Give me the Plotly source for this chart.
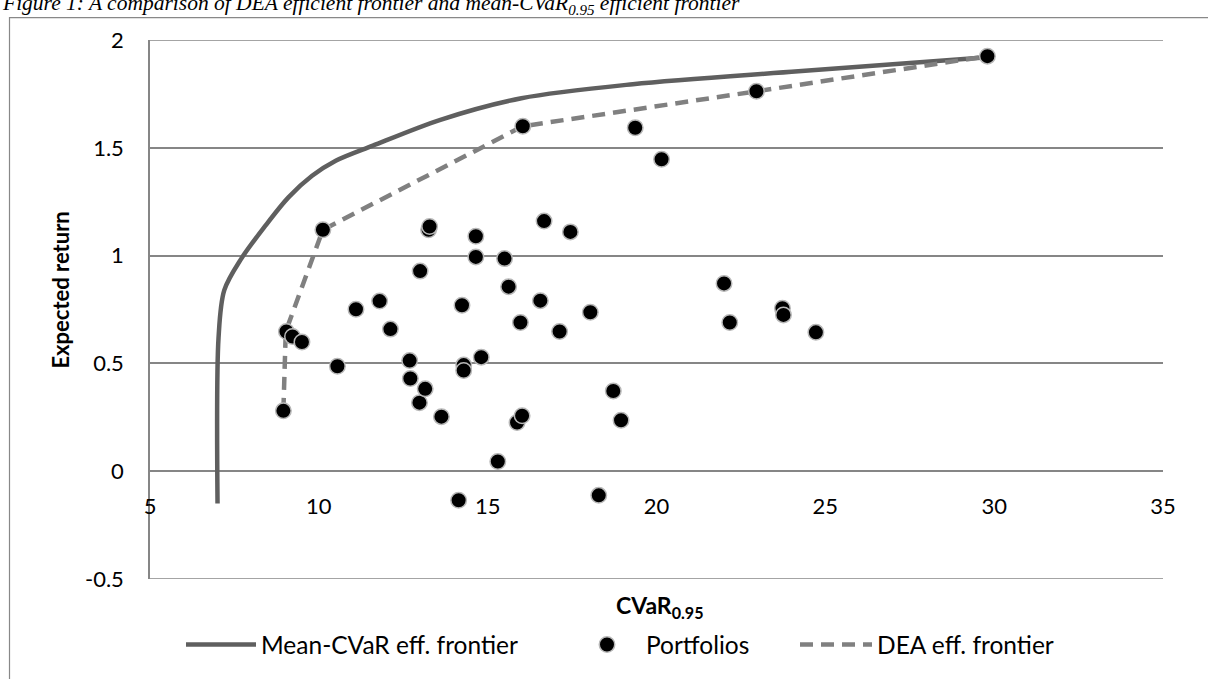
import plotly.graph_objects as go

# ---- data ----
mc_cvar = [7.0, 7.03, 7.2, 7.7, 8.4, 9.1, 9.8, 10.5, 11.6, 13.6, 16.0, 19.3, 24.2, 29.8]
mc_ret = [-0.15, 0.62, 0.84, 0.985, 1.135, 1.27, 1.37, 1.44, 1.51, 1.63, 1.73, 1.795, 1.855, 1.92]

dea_cvar = [8.95, 9.02, 10.12, 16.04, 22.96, 29.8]
dea_ret = [0.28, 0.648, 1.12, 1.60, 1.762, 1.925]

pf_cvar = [8.95, 9.04, 9.22, 9.5, 10.12, 10.55, 11.1, 11.8, 12.12, 12.69, 12.71, 12.98,
           13.0, 13.15, 13.25, 13.28, 13.63, 14.14, 14.24, 14.29, 14.29, 14.65, 14.65,
           14.81, 15.3, 15.5, 15.62, 15.87, 16.02, 15.97, 16.04, 16.56, 16.67, 17.13,
           17.45, 18.04, 18.29, 18.72, 18.95, 19.37, 20.15, 22.0, 22.17, 22.96, 23.73,
           23.76, 24.72, 29.8]
pf_ret = [0.28, 0.648, 0.625, 0.599, 1.12, 0.487, 0.751, 0.789, 0.659, 0.513, 0.43, 0.318,
          0.928, 0.382, 1.12, 1.135, 0.253, -0.135, 0.77, 0.492, 0.467, 1.09, 0.994,
          0.529, 0.045, 0.986, 0.856, 0.226, 0.257, 0.69, 1.60, 0.791, 1.16, 0.648,
          1.11, 0.737, -0.112, 0.372, 0.236, 1.593, 1.447, 0.871, 0.69, 1.762, 0.756,
          0.725, 0.644, 1.925]

y_ticks = [-0.5, 0, 0.5, 1, 1.5, 2]
y_ticktext = ["-0.5", "0", "0.5", "1", "1.5", "2"]
x_ticks = [5, 10, 15, 20, 25, 30, 35]

FONT = "Lato"
GRID = "#868686"

W, H = 1208, 679
ML, MR, MT, MB = 150, 45, 40, 97
PW, PH = W - ML - MR, H - MT - MB


def px2paper_x(px):
    return (px - ML) / PW


def px2paper_y(py):
    return (H - MB - py) / PH


fig = go.Figure()

fig.add_trace(go.Scatter(
    x=mc_cvar, y=mc_ret, mode="lines", name="Mean-CVaR eff. frontier",
    line=dict(color="#5f5f5f", width=4.5, shape="spline", smoothing=0.9),
    legend="legend", hoverinfo="skip"))

fig.add_trace(go.Scatter(
    x=dea_cvar, y=dea_ret, mode="lines", name="DEA eff. frontier",
    line=dict(color="#808080", width=4.5, dash="13px,8px"),
    legend="legend3", hoverinfo="skip"))

fig.add_trace(go.Scatter(
    x=pf_cvar, y=pf_ret, mode="markers", name="Portfolios",
    marker=dict(color="#000000", size=15.5, line=dict(color="#b8b8b8", width=1.5)),
    legend="legend2"))

leg_common = dict(orientation="h", yanchor="middle", xanchor="left",
                  font=dict(family=FONT, size=24.5, color="#000000"),
                  bgcolor="rgba(0,0,0,0)")

fig.update_layout(
    width=W, height=H,
    margin=dict(l=ML, r=MR, t=MT, b=MB),
    paper_bgcolor="white", plot_bgcolor="white",
    font=dict(family=FONT, color="#000000"),
    xaxis=dict(range=[5, 35], tickvals=x_ticks, showgrid=False, zeroline=False,
               showline=False, ticks="", anchor="free", position=0.2,
               tickfont=dict(family=FONT, size=22, color="#000000"),
               ticklabelstandoff=20),
    yaxis=dict(range=[-0.5, 2.0], tickvals=y_ticks, ticktext=y_ticktext,
               showgrid=True, gridcolor=GRID, gridwidth=1.5, zeroline=False,
               showline=True, linecolor=GRID, linewidth=1.5, ticks="",
               tickfont=dict(family=FONT, size=22, color="#000000"),
               ticklabelstandoff=20),
    legend=dict(x=px2paper_x(181), y=px2paper_y(648), itemwidth=70, **leg_common),
    legend2=dict(x=px2paper_x(568), y=px2paper_y(648), itemwidth=68, **leg_common),
    legend3=dict(x=px2paper_x(795), y=px2paper_y(648), itemwidth=72, **leg_common),
    showlegend=True,
)

# gridlines at the two ends of the value axis (Plotly skips grid at range edges)
for yv in (y_ticks[0], y_ticks[-1]):
    fig.add_shape(type="line", xref="paper", yref="y", x0=0, x1=1, y0=yv, y1=yv,
                  line=dict(color=GRID, width=1.5), layer="below")

# outer chart border (extends beyond the picture on the right and bottom)
fig.add_shape(type="rect", xref="paper", yref="paper",
              x0=px2paper_x(9.5), x1=px2paper_x(1240),
              y0=px2paper_y(720), y1=px2paper_y(17.5),
              line=dict(color="#888888", width=1.2), fillcolor="rgba(0,0,0,0)",
              layer="below")

# figure caption (partly cut off at the top, as in the reference)
fig.add_annotation(
    text="<i>Figure 1: A comparison of DEA efficient frontier and mean-CVaR<sub>0.95</sub> efficient frontier</i>",
    xref="paper", yref="paper", x=px2paper_x(0), y=px2paper_y(20),
    xanchor="left", yanchor="bottom", showarrow=False,
    font=dict(family="Liberation Serif", size=21.5, color="#000000"))

# axis titles
fig.add_annotation(
    text="<b>Expected return</b>", xref="paper", yref="paper",
    x=px2paper_x(61), y=px2paper_y(292), textangle=-90,
    xanchor="center", yanchor="middle", showarrow=False,
    font=dict(family=FONT, size=22, color="#000000"))
fig.add_annotation(
    text="<b>CVaR<sub>0.95</sub></b>", xref="paper", yref="paper",
    x=px2paper_x(659), y=px2paper_y(610),
    xanchor="center", yanchor="middle", showarrow=False,
    font=dict(family=FONT, size=23, color="#000000"))

fig.write_html("out.html")
